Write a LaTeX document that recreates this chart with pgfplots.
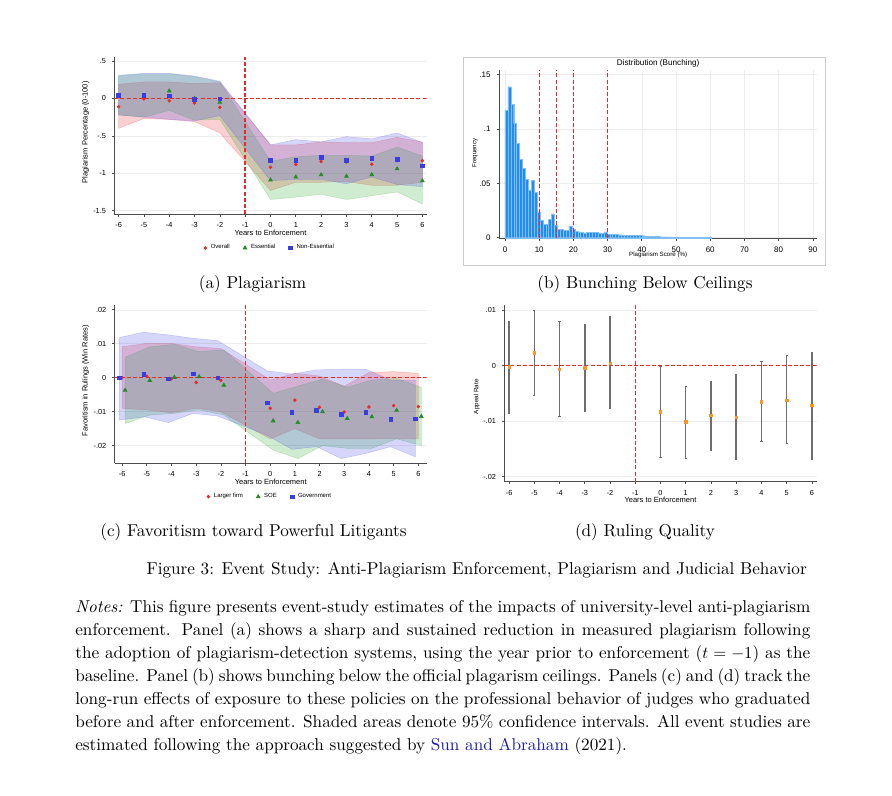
\documentclass[border=0pt]{standalone}
\usepackage{fontspec}
\usepackage{pgfplots}
\pgfplotsset{compat=1.18}
\newfontfamily\arial{Liberation Sans}

\definecolor{sred}{RGB}{225,45,45}
\definecolor{sgreen}{RGB}{40,140,40}
\definecolor{sblue}{RGB}{60,60,225}
\definecolor{bred}{RGB}{235,40,40}
\definecolor{bgreen}{RGB}{40,170,40}
\definecolor{bblue}{RGB}{70,70,235}
\definecolor{histblue}{RGB}{35,140,240}
\definecolor{histedge}{RGB}{130,190,250}
\definecolor{dorange}{RGB}{250,150,40}
\definecolor{ebgray}{RGB}{110,110,110}
\definecolor{linkblue}{RGB}{30,30,170}

\pgfplotsset{
  stata/.style={
    scale only axis,
    anchor=south west,
    axis lines=left,
    axis line style={-, black!70, line width=0.45pt},
    tick align=outside,
    major tick length=1.5pt,
    tick style={black!70, line width=0.4pt},
    scaled x ticks=false, scaled y ticks=false,
    ymajorgrids,
    grid style={black!7, line width=0.3pt},
    tick label style={font=\arial\fontsize{4.4}{5}\selectfont},
    label style={font=\arial\fontsize{4.5}{5.4}\selectfont},
    legend columns=-1,
    legend style={draw=none, fill=none, font=\arial\fontsize{3.6}{4.2}\selectfont,
      /tikz/every even column/.append style={column sep=6pt},
      /tikz/every odd column/.append style={column sep=0.5pt}},
  },
  mk/.style={only marks,
    legend image code/.code={\draw[mark repeat=2,mark phase=2,##1] plot coordinates {(0cm,0cm) (0.08cm,0cm) (0.16cm,0cm)};}},
  refline/.style={forget plot, draw=sred, dash pattern=on 2.4pt off 1.3pt, line width=0.9pt},
  band/.style={forget plot, fill=#1, fill opacity=0.22, draw=#1, draw opacity=0.25, line width=0.3pt},
}

\begin{document}
\begin{tikzpicture}
\useasboundingbox (0,0) rectangle (535.2pt,-477pt);

% ---------- (a) Plagiarism ----------
\begin{axis}[stata, at={(68.58pt,-128.4pt)}, width=187.44pt, height=94.38pt,
  xmin=-6.17, xmax=6.17, ymin=-1.544, ymax=0.558,
  xtick={-6,...,6}, xticklabels={-6,-5,-4,-3,-2,-1,0,1,2,3,4,5,6},
  ytick={-1.5,-1,-0.5,0,0.5}, yticklabels={-1.5,-1,-.5,0,.5},
  xlabel={Years to Enforcement}, ylabel={Plagiarism Percentage (0-100)},
  xlabel style={at={(rel axis cs:0.5,-0.1227)}, anchor=center},
  ylabel style={at={(rel axis cs:-0.0916,0.52)}, anchor=center},
  legend style={at={(0.5,-0.216)}, anchor=center}]
\addplot[band=bred] coordinates {(-6,0.19) (-5,0.22) (-4,0.22) (-3,0.20) (-2,0.21) (0,-0.62) (1,-0.62) (2,-0.58) (3,-0.59) (4,-0.59) (5,-0.52) (6,-0.58)
  (6,-1.12) (5,-1.16) (4,-1.16) (3,-1.11) (2,-1.12) (1,-1.12) (0,-1.23) (-2,-0.46) (-3,-0.31) (-4,-0.28) (-5,-0.27) (-6,-0.40)} -- cycle;
\addplot[band=bgreen] coordinates {(-6,0.30) (-5,0.33) (-4,0.33) (-3,0.29) (-2,0.22) (0,-0.84) (1,-0.78) (2,-0.76) (3,-0.76) (4,-0.77) (5,-0.65) (6,-0.77)
  (6,-1.41) (5,-1.25) (4,-1.30) (3,-1.35) (2,-1.28) (1,-1.32) (0,-1.35) (-2,-0.28) (-3,-0.29) (-4,-0.16) (-5,-0.25) (-6,-0.22)} -- cycle;
\addplot[band=bblue] coordinates {(-6,0.31) (-5,0.335) (-4,0.335) (-3,0.30) (-2,0.23) (0,-0.62) (1,-0.55) (2,-0.58) (3,-0.51) (4,-0.54) (5,-0.46) (6,-0.59)
  (6,-1.18) (5,-1.15) (4,-1.05) (3,-1.14) (2,-1.08) (1,-1.08) (0,-1.10) (-2,-0.23) (-3,-0.30) (-4,-0.28) (-5,-0.25) (-6,-0.22)} -- cycle;
\addplot[refline] coordinates {(-6.17,0) (6.17,0)};
\addplot[refline] coordinates {(-1,-1.544) (-1,0.558)};
\addplot[mk, mark=*, mark size=0.85pt, color=sred] coordinates {(-6,-0.11) (-5,-0.005) (-4,-0.03) (-3,-0.06) (-2,-0.12) (0,-0.92) (1,-0.88) (2,-0.84) (3,-0.85) (4,-0.88) (5,-0.83) (6,-0.83)};
\addlegendentry{Overall}
\addplot[mk, mark=triangle*, mark size=1.3pt, color=sgreen] coordinates {(-6,0.03) (-5,0.03) (-4,0.10) (-3,0.0) (-2,-0.05) (0,-1.09) (1,-1.05) (2,-1.02) (3,-1.04) (4,-1.02) (5,-0.94) (6,-1.10)};
\addlegendentry{Essential}
\addplot[mk, mark=square*, mark size=1.1pt, color=sblue] coordinates {(-6,0.045) (-5,0.045) (-4,0.035) (-3,-0.01) (-2,-0.005) (0,-0.83) (1,-0.83) (2,-0.79) (3,-0.83) (4,-0.80) (5,-0.81) (6,-0.90)};
\addlegendentry{Non-Essential}
\end{axis}

% ---------- (b) Bunching ----------
\draw[black!20, line width=0.5pt] (277.8pt,-34.2pt) rectangle (495pt,-159pt);
\begin{axis}[stata, at={(299.4pt,-143.22pt)}, width=190.98pt, height=101.22pt,
  xmin=-1.75, xmax=91.3, ymin=-0.0009, ymax=0.1543,
  xmajorgrids,
  xtick={0,10,...,90}, xticklabels={0,10,20,30,40,50,60,70,80,90},
  ytick={0,0.05,0.1,0.15}, yticklabels={0,.05,.1,.15},
  tick label style={font=\arial\fontsize{4.8}{5.4}\selectfont},
  title={Distribution (Bunching)},
  title style={font=\arial\fontsize{4.9}{5.6}\selectfont, at={(0.5,1)}, anchor=south, yshift=-5.3pt, inner sep=1pt},
  xlabel={Plagiarism Score (\%)}, ylabel={Frequency},
  label style={font=\arial\fontsize{3.7}{4.4}\selectfont},
  xlabel style={at={(rel axis cs:0.5,-0.0966)}, anchor=center},
  ylabel style={at={(rel axis cs:-0.0754,0.508)}, anchor=center}]
\addplot[ybar interval, fill=histblue, draw=histedge, line width=0.15pt] coordinates {
(0,0.117) (0.85,0.139) (1.7,0.123) (2.55,0.105) (3.4,0.087) (4.25,0.072) (5.1,0.064) (5.95,0.054)
(6.8,0.044) (7.65,0.053) (8.5,0.042) (9.35,0.024) (10.2,0.016) (11.05,0.0125) (11.9,0.0125) (12.75,0.017)
(13.6,0.022) (14.45,0.0115) (15.3,0.008) (16.15,0.0075) (17,0.007) (17.85,0.0068) (18.7,0.011) (19.55,0.0075)
(20.4,0.006) (21.25,0.0055) (22.1,0.005) (22.95,0.0045) (23.8,0.005) (24.65,0.0052) (25.5,0.005) (26.35,0.0048)
(27.2,0.0045) (28.05,0.0042) (28.9,0.0055) (29.75,0.0034) (30.6,0.0032) (31.45,0.003) (32.3,0.0029) (33.15,0.0028)
(34,0.0026) (34.85,0.0025) (35.7,0.0024) (36.55,0.0022) (37.4,0.002) (38.25,0.0022) (39.1,0.002) (39.95,0.0019)
(40.8,0.0016) (41.65,0.0015) (42.5,0.0013) (43.35,0.0012) (44.2,0.0011) (45.05,0.001) (45.9,0.0009) (46.75,0.0008)
(47.6,0.0007) (48.45,0.0006) (49.3,0.0005) (50.15,0.0005) (51,0.0004) (51.85,0.0004) (52.7,0.0003) (53.55,0.0003)
(54.4,0.0003) (55.25,0.0002) (56.1,0.0002) (56.95,0.0002) (57.8,0.0002) (58.65,0.0001) (59.5,0.0001) (60.35,0.0001)};
\addplot[refline, line width=0.8pt] coordinates {(10,0) (10,0.1543)};
\addplot[refline, line width=0.8pt] coordinates {(15,0) (15,0.1543)};
\addplot[refline, line width=0.8pt] coordinates {(20,0) (20,0.1543)};
\addplot[refline, line width=0.8pt] coordinates {(30,0) (30,0.1543)};
\end{axis}

% ---------- (c) Favoritism ----------
\begin{axis}[stata, at={(68.82pt,-277.98pt)}, width=187.2pt, height=94.98pt,
  xmin=-6.3, xmax=6.34, ymin=-0.0252, ymax=0.0214,
  xtick={-6,...,6}, xticklabels={-6,-5,-4,-3,-2,-1,0,1,2,3,4,5,6},
  ytick={-0.02,-0.01,0,0.01,0.02}, yticklabels={-.02,-.01,0,.01,.02},
  xlabel={Years to Enforcement}, ylabel={Favoritism in Rulings (Win Rates)},
  xlabel style={at={(rel axis cs:0.5,-0.12)}, anchor=center},
  ylabel style={at={(rel axis cs:-0.093,0.521)}, anchor=center},
  legend style={at={(0.5,-0.211)}, anchor=center}]
\addplot[band=bred] coordinates {(-6,0.0091) (-5,0.0101) (-4,0.0101) (-3,0.0091) (-2,0.0086) (0,-0.0007) (1,0.0013) (2,0.0005) (3,-0.0025) (4,0.0015) (5,0.0018) (6,0.0013)
  (6,-0.018) (5,-0.0179) (4,-0.018) (3,-0.018) (2,-0.018) (1,-0.015) (0,-0.018) (-2,-0.010) (-3,-0.009) (-4,-0.0103) (-5,-0.0095) (-6,-0.009)} -- cycle;
\addplot[band=bgreen] coordinates {(-5.88,0.006) (-4.88,0.0091) (-3.88,0.0098) (-2.88,0.0077) (-1.88,0.0082) (0.12,-0.0046) (1.12,-0.0025) (2.12,-0.0004) (3.12,-0.0028) (4.12,-0.0007) (5.12,-0.0002) (6.12,-0.0028)
  (6.12,-0.020) (5.12,-0.018) (4.12,-0.0208) (3.12,-0.0208) (2.12,-0.020) (1.12,-0.0238) (0.12,-0.0213) (-1.88,-0.011) (-2.88,-0.0095) (-3.88,-0.0105) (-4.88,-0.011) (-5.88,-0.0135)} -- cycle;
\addplot[band=bblue] coordinates {(-6.12,0.0118) (-5.12,0.0134) (-4.12,0.0126) (-3.12,0.0116) (-2.12,0.0109) (-0.12,0.002) (0.88,0.0011) (1.88,0.0023) (2.88,0.0025) (3.88,0.0025) (4.88,-0.0007) (5.88,-0.0007)
  (5.88,-0.0233) (4.88,-0.0203) (3.88,-0.0223) (2.88,-0.0238) (1.88,-0.0203) (0.88,-0.0211) (-0.12,-0.017) (-2.12,-0.0113) (-3.12,-0.0105) (-4.12,-0.0132) (-5.12,-0.0115) (-6.12,-0.0125)} -- cycle;
\addplot[refline] coordinates {(-6.3,0) (6.34,0)};
\addplot[refline] coordinates {(-1,-0.0252) (-1,0.0214)};
\addplot[mk, mark=*, mark size=0.85pt, color=sred] coordinates {(-6,0.0) (-5,0.0004) (-4,-0.0003) (-3,-0.0014) (-2,-0.0008) (0,-0.009) (1,-0.0066) (2,-0.0087) (3,-0.0101) (4,-0.0086) (5,-0.0082) (6,-0.0085)};
\addlegendentry{Larger firm}
\addplot[mk, mark=triangle*, mark size=1.3pt, color=sgreen] coordinates {(-5.88,-0.0037) (-4.88,-0.0008) (-3.88,0.0001) (-2.88,0.0003) (-1.88,-0.0022) (0.12,-0.0127) (1.12,-0.0132) (2.12,-0.010) (3.12,-0.012) (4.12,-0.0115) (5.12,-0.0096) (6.12,-0.0114)};
\addlegendentry{SOE}
\addplot[mk, mark=square*, mark size=1.1pt, color=sblue] coordinates {(-6.12,0.0) (-5.12,0.0009) (-4.12,-0.0003) (-3.12,0.0011) (-2.12,0.0) (-0.12,-0.0074) (0.88,-0.0101) (1.88,-0.0097) (2.88,-0.0107) (3.88,-0.0101) (4.88,-0.0123) (5.88,-0.0121)};
\addlegendentry{Government}
\end{axis}

% ---------- (d) Ruling quality ----------
\begin{axis}[stata, at={(302.58pt,-289.02pt)}, width=187.44pt, height=106.02pt,
  xmin=-6.19, xmax=6.19, ymin=-0.0209, ymax=0.0109,
  xtick={-6,...,6}, xticklabels={-6,-5,-4,-3,-2,-1,0,1,2,3,4,5,6},
  ytick={-0.02,-0.01,0,0.01}, yticklabels={-.02,-.01,0,.01},
  xlabel={Years to Enforcement}, ylabel={Appeal Rate},
  ylabel style={font=\arial\fontsize{3.8}{4.4}\selectfont},
  xlabel style={at={(rel axis cs:0.5,-0.1036)}, anchor=center},
  ylabel style={at={(rel axis cs:-0.0883,0.481)}, anchor=center}]
\addplot[refline] coordinates {(-6.19,0) (6.19,0)};
\addplot[refline] coordinates {(-1,-0.0209) (-1,0.0109)};
\addplot[only marks, mark=square*, mark size=0.7pt, color=dorange,
  error bars/.cd, y dir=both, y explicit,
  error bar style={color=ebgray, line width=0.9pt},
  error mark options={rotate=90, mark size=0.65pt, color=ebgray, line width=0.5pt}]
  coordinates {
  (-6,-0.0002) += (0,0.0082) -= (0,0.0084)
  (-5,0.0023) += (0,0.0077) -= (0,0.0076)
  (-4,-0.0007) += (0,0.0087) -= (0,0.0084)
  (-3,-0.0004) += (0,0.0078) -= (0,0.0079)
  (-2,0.0004) += (0,0.0084) -= (0,0.0081)
  (0,-0.0083) += (0,0.0082) -= (0,0.0083)
  (1,-0.0101) += (0,0.0064) -= (0,0.0066)
  (2,-0.0090) += (0,0.0062) -= (0,0.0063)
  (3,-0.0093) += (0,0.0077) -= (0,0.0076)
  (4,-0.0065) += (0,0.0072) -= (0,0.0071)
  (5,-0.0062) += (0,0.0080) -= (0,0.0078)
  (6,-0.0072) += (0,0.0096) -= (0,0.0097)
  };
\end{axis}

% ---------- captions and notes ----------
\begin{scope}[every node/.style={font=\fontsize{10.3}{13.8}\selectfont, inner sep=0pt}]
\node[anchor=base] at (151.5pt,-173.1pt) {(a) Plagiarism};
\node[anchor=base] at (387pt,-173.1pt) {(b) Bunching Below Ceilings};
\node[anchor=base] at (152.1pt,-321.9pt) {(c) Favoritism toward Powerful Litigants};
\node[anchor=base] at (387pt,-321.9pt) {(d) Ruling Quality};
\node[anchor=base] at (286pt,-344.7pt) {Figure 3: Event Study: Anti-Plagiarism Enforcement, Plagiarism and Judicial Behavior};
\node[anchor=north west, text width=441pt, align=justify] at (45pt,-359.76pt) {\textit{Notes:} This figure presents event-study estimates of the impacts of university-level anti-plagiarism\linebreak
enforcement. Panel (a) shows a sharp and sustained reduction in measured plagiarism following\linebreak
the adoption of plagiarism-detection systems, using the year prior to enforcement ($t=-1$) as the\linebreak
baseline. Panel (b) shows bunching below the official plagarism ceilings. Panels (c) and (d) track the\linebreak
long-run effects of exposure to these policies on the professional behavior of judges who graduated\linebreak
before and after enforcement. Shaded areas denote 95\% confidence intervals. All event studies are\linebreak
estimated following the approach suggested by \textcolor{linkblue}{Sun and Abraham} (2021).};
\end{scope}
\end{tikzpicture}
\end{document}
